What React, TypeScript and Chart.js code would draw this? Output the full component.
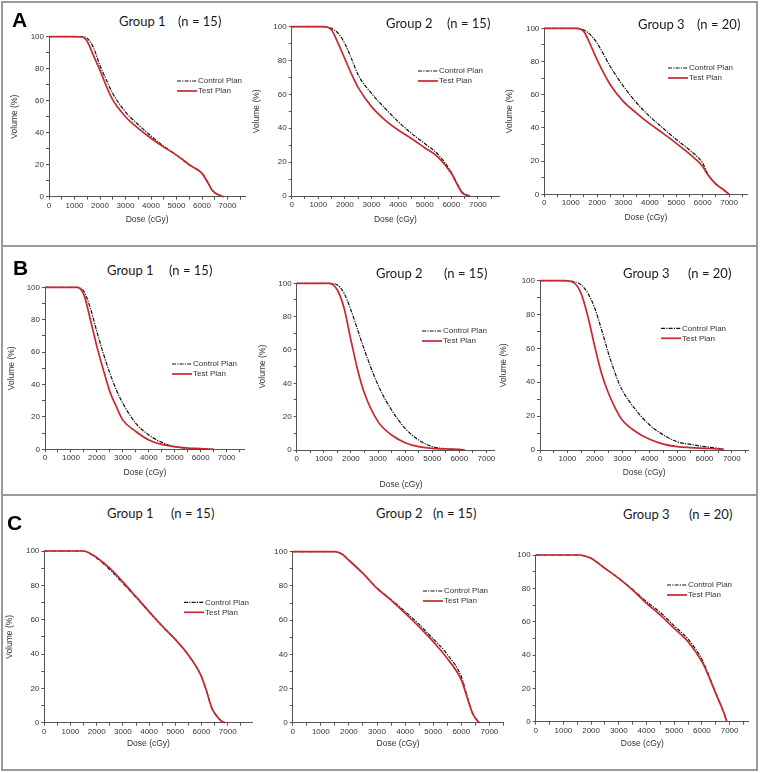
import React, { useEffect, useRef } from 'react';
import { Chart, registerables } from 'chart.js';

Chart.register(...registerables);

// ---------- DATA (dose in cGy, volume in %) ----------
const doseA1 = [0, 1000, 1300, 1500, 1750, 2000, 2250, 2500, 3000, 3500, 4000, 4500, 5000, 5500, 6000, 6200, 6400, 6600, 6850];
const ctrlA1 = [100, 100, 100, 99, 93, 82, 73, 64.5, 53, 45, 38, 31.5, 26, 20, 14.6, 10, 4, 1.5, 0];
const testA1 = [100, 100, 99.8, 97, 88, 79, 69, 60.5, 50, 42.7, 36.5, 31, 26, 20, 14.6, 9.5, 4, 1.5, 0];

const doseA2 = [0, 1200, 1500, 1750, 2000, 2250, 2500, 3000, 3500, 4000, 4500, 5000, 5500, 6000, 6200, 6400, 6600, 6700];
const ctrlA2 = [100, 100, 99, 96, 90, 81, 71.5, 60.6, 52, 44, 37, 31, 24.6, 14, 8, 2.5, 0.5, 0];
const testA2 = [100, 100, 98, 90, 81, 72, 64, 52.8, 45, 39, 34, 28.5, 23, 13.4, 7.5, 2, 0.4, 0];

const doseA3 = [0, 1200, 1500, 1750, 2000, 2500, 3000, 3500, 4000, 4500, 5000, 5500, 6000, 6200, 6500, 6800, 7000];
const ctrlA3 = [100, 100, 99, 96, 91, 77, 65, 55, 46.8, 39.8, 33, 26.7, 18.7, 12, 6.2, 2.6, 0];
const testA3 = [100, 100, 98, 90, 81, 66, 55.8, 48.8, 42.4, 36.7, 30.7, 24.3, 16.7, 11.6, 6.2, 2.6, 0];

const doseB1 = [0, 1250, 1500, 1750, 2000, 2250, 2500, 2750, 3000, 3500, 4000, 4500, 5000, 5500, 6000, 6500];
const ctrlB1 = [100, 100, 97.5, 87, 72.6, 59, 47, 36.6, 28.4, 16, 8.8, 4.3, 1.6, 0.6, 0.2, 0];
const testB1 = [100, 100, 95.3, 80, 63.4, 49, 35.6, 26.3, 18, 11, 5.8, 3, 1.6, 0.8, 0.4, 0];

const doseB2 = [0, 1200, 1500, 1750, 2000, 2250, 2500, 3000, 3500, 4000, 4500, 5000, 5500, 6000, 6200];
const ctrlB2 = [100, 100, 99, 94, 84, 72, 60, 39, 24, 13, 6, 2, 0.8, 0.2, 0];
const testB2 = [100, 100, 96, 85, 66, 48, 34, 17, 9, 4.4, 2, 1, 0.6, 0.4, 0];

const doseB3 = [0, 900, 1250, 1500, 1750, 2000, 2250, 2500, 2750, 3000, 3500, 4000, 4500, 5000, 5500, 6000, 6500, 6700];
const ctrlB3 = [100, 100, 99.4, 97.6, 92.5, 83.7, 70.9, 57, 45, 35.4, 23.6, 14.8, 8.9, 4.9, 3.3, 2, 1, 0.4];
const testB3 = [100, 100, 98.6, 92.5, 78.7, 61, 45, 33.5, 24.6, 17.7, 10.8, 6.3, 3.5, 2, 1.4, 1, 0.6, 0.4];

const doseC1 = [0, 1500, 1750, 2000, 2500, 3000, 3500, 4000, 4500, 5000, 5500, 6000, 6200, 6400, 6600, 6800, 6900];
const ctrlC1 = [100, 100, 98.4, 95.8, 89.2, 81.2, 73, 64.5, 56.2, 48.4, 39.3, 26.8, 18, 8.3, 3.5, 0.6, 0];
const testC1 = [100, 100, 98.6, 96.3, 90, 82, 73.4, 64.7, 56.3, 48.5, 39.4, 26.8, 18, 8.3, 3.5, 0.6, 0];

const doseC2 = [0, 1500, 1750, 2000, 2500, 3000, 3500, 4000, 4500, 5000, 5500, 6000, 6200, 6400, 6600, 6650];
const ctrlC2 = [100, 100, 98.6, 95, 87.3, 78.8, 72, 65, 57.5, 49, 40, 27, 16, 5.8, 0.6, 0];
const testC2 = [100, 100, 98.6, 95, 87.3, 78.6, 71.7, 64, 56, 47.4, 37.6, 25, 15.2, 5.5, 0.6, 0];

const doseC3 = [0, 1600, 1750, 2000, 2500, 3000, 3500, 4000, 4500, 5000, 5500, 6000, 6200, 6500, 6800, 6900];
const ctrlC3 = [100, 100, 99.5, 98, 92, 86, 79.3, 72, 65.5, 57.5, 49.5, 37.5, 30, 17.2, 5, 0];
const testC3 = [100, 100, 99.5, 98, 92, 86, 79, 71, 64, 56, 48, 36, 29, 17, 5, 0];

const seriesLabels = ['Control Plan', 'Test Plan'];
const groupTitles = ['Group 1', 'Group 2', 'Group 3'];
const groupSizes = ['(n = 15)', '(n = 15)', '(n = 20)'];
const rowLetters = ['A', 'B', 'C'];
const doseTicks = [0, 500, 1000, 1500, 2000, 2500, 3000, 3500, 4000, 4500, 5000, 5500, 6000, 6500, 7000, 7500];
const volumeTicks = [0, 10, 20, 30, 40, 50, 60, 70, 80, 90, 100];

// ---------- STYLE / LAYOUT ----------
const TEST_COLOR = '#c8282e';
const CTRL_COLOR = '#111111';
const AXIS_COLOR = '#555555';
const TEXT_COLOR = '#333333';
const SMALL_FONT = { family: "'Liberation Sans', Arial, sans-serif", size: 8 };

type Panel = {
  dose: number[]; ctrl: number[]; test: number[];
  xL: number; yT: number; yB: number; px: number; xMax: number;
  yLab: number | null; doseY: number; lg: [number, number]; clipR?: number;
  g: number; gx: number; nx: number; ty: number;
};

const panels: Panel[] = [
  { dose: doseA1, ctrl: ctrlA1, test: testA1, xL: 49, yT: 36.7, yB: 196.7, px: 25.5, xMax: 7700, yLab: 15, doseY: 220, lg: [128, 44.3], g: 0, gx: 119, nx: 178, ty: 20.7 },
  { dose: doseA2, ctrl: ctrlA2, test: testA2, xL: 291.7, yT: 26.7, yB: 196, px: 26.6, xMax: 7800, yLab: 257, doseY: 220, lg: [126.3, 44.3], g: 1, gx: 386, nx: 447, ty: 23 },
  { dose: doseA3, ctrl: ctrlA3, test: testA3, xL: 544.3, yT: 28.3, yB: 194.3, px: 26.4, xMax: 7700, yLab: 510, doseY: 218, lg: [123.7, 39.7], g: 2, gx: 638, nx: 697, ty: 24 },
  { dose: doseB1, ctrl: ctrlB1, test: testB1, xL: 45, yT: 287.3, yB: 449.3, px: 25.95, xMax: 7700, yLab: 12, doseY: 472.7, lg: [127, 76.7], g: 0, gx: 107, nx: 169, ty: 270 },
  { dose: doseB2, ctrl: ctrlB2, test: testB2, xL: 296.7, yT: 283.3, yB: 450, px: 27.1, xMax: 7700, yLab: 263, doseY: 485, lg: [125.3, 47.7], clipR: 495, g: 1, gx: 376, nx: 444, ty: 273 },
  { dose: doseB3, ctrl: ctrlB3, test: testB3, xL: 540, yT: 280.7, yB: 450, px: 27.4, xMax: 7600, yLab: 504, doseY: 473, lg: [121, 47.6], g: 2, gx: 623, nx: 688, ty: 272.7 },
  { dose: doseC1, ctrl: ctrlC1, test: testC1, xL: 44.3, yT: 551, yB: 722.7, px: 26.2, xMax: 7950, yLab: 10, doseY: 744, lg: [139.7, 51.3], g: 0, gx: 107, nx: 171, ty: 513 },
  { dose: doseC2, ctrl: ctrlC2, test: testC2, xL: 292.7, yT: 551.7, yB: 722.7, px: 28.1, xMax: 7500, yLab: null, doseY: 744, lg: [130.3, 39.3], g: 1, gx: 376, nx: 433, ty: 513 },
  { dose: doseC3, ctrl: ctrlC3, test: testC3, xL: 535.7, yT: 555, yB: 721.7, px: 27.7, xMax: 7700, yLab: null, doseY: 744, lg: [131.3, 30], g: 2, gx: 623, nx: 689, ty: 514 },
];

const letterPos = [
  { x: 12, y: 9 },
  { x: 13, y: 257 },
  { x: 7, y: 512 },
];

const dvhLegend = {
  id: 'dvhLegend',
  afterDatasetsDraw(chart: any, _args: any, opts: any) {
    const { ctx, chartArea } = chart;
    const x0 = chartArea.left + opts.dx;
    const y0 = chartArea.top + opts.dy;
    const items = [
      { ds: chart.data.datasets[1], y: y0 },
      { ds: chart.data.datasets[0], y: y0 + 10 },
    ];
    ctx.save();
    for (const it of items) {
      ctx.beginPath();
      ctx.strokeStyle = it.ds.borderColor;
      ctx.lineWidth = it.ds.borderWidth;
      ctx.setLineDash(it.ds.borderDash || []);
      ctx.moveTo(x0, it.y);
      ctx.lineTo(x0 + 20, it.y);
      ctx.stroke();
      ctx.setLineDash([]);
      ctx.fillStyle = TEXT_COLOR;
      ctx.font = `8px ${SMALL_FONT.family}`;
      ctx.textBaseline = 'middle';
      ctx.textAlign = 'left';
      ctx.fillText(it.ds.label, x0 + 21, it.y);
    }
    ctx.restore();
  },
};

function DvhPanel({ p }: { p: Panel }) {
  const ref = useRef<HTMLCanvasElement>(null);
  const LH = 8.5 * 1.2;
  const left = Math.round(p.yLab != null ? p.yLab - LH / 2 : p.xL - 40);
  const W = p.xL - left;
  const top = Math.round(p.yT - 8);
  const T = p.yT - top;
  const plotW = (p.xMax / 1000) * p.px;
  const plotH = p.yB - p.yT;
  const ch = Math.round(T + plotH + (p.doseY + LH / 2 - p.yB));
  const H = ch - T - plotH;
  const cw = Math.ceil(W + plotW + 6);
  const R = cw - W - plotW;

  useEffect(() => {
    if (!ref.current) return;
    const mk = (ys: number[]) => p.dose.map((x, i) => ({ x, y: ys[i] }));
    const chart = new Chart(ref.current, {
      type: 'line',
      data: {
        datasets: [
          { label: seriesLabels[1], data: mk(p.test), borderColor: TEST_COLOR, borderWidth: 1.7, pointRadius: 0, cubicInterpolationMode: 'monotone', order: 0, clip: false } as any,
          { label: seriesLabels[0], data: mk(p.ctrl), borderColor: CTRL_COLOR, borderWidth: 1.2, borderDash: [4, 1.2, 1.2, 1.2], pointRadius: 0, cubicInterpolationMode: 'monotone', order: 1, clip: false } as any,
        ],
      },
      options: {
        responsive: false,
        animation: false,
        devicePixelRatio: 1,
        layout: { padding: { top: T, right: R, left: 0, bottom: 0 } },
        plugins: {
          legend: { display: false },
          tooltip: { enabled: false },
          dvhLegend: { dx: p.lg[0], dy: p.lg[1] },
        } as any,
        scales: {
          x: {
            type: 'linear', min: 0, max: p.xMax,
            afterBuildTicks: (s: any) => { s.ticks = doseTicks.filter((v) => v <= p.xMax).map((value) => ({ value })); },
            afterFit: (s: any) => { s.height = H; },
            ticks: { autoSkip: false, maxRotation: 0, minRotation: 0, padding: 1, color: TEXT_COLOR, font: SMALL_FONT, callback: (v: any) => (v % 1000 === 0 ? String(v) : '') },
            grid: { drawOnChartArea: false, tickLength: 3, color: AXIS_COLOR },
            border: { color: AXIS_COLOR, width: 1 },
            title: { display: true, text: 'Dose (cGy)', padding: 0, color: TEXT_COLOR, font: { ...SMALL_FONT, size: 8.5 } },
          },
          y: {
            type: 'linear', min: 0, max: 100,
            afterBuildTicks: (s: any) => { s.ticks = volumeTicks.map((value) => ({ value })); },
            afterFit: (s: any) => { s.width = W; },
            ticks: { autoSkip: false, padding: 2, color: TEXT_COLOR, font: SMALL_FONT, callback: (v: any) => (v % 20 === 0 ? String(v) : '') },
            grid: { drawOnChartArea: false, tickLength: 3, color: AXIS_COLOR },
            border: { color: AXIS_COLOR, width: 1 },
            title: { display: p.yLab != null, text: 'Volume (%)', padding: 0, color: TEXT_COLOR, font: { ...SMALL_FONT, size: 8.5 } },
          },
        },
      } as any,
      plugins: [dvhLegend],
    });
    return () => chart.destroy();
  }, []);

  const wrapW = p.clipR ? p.clipR - left : cw;
  return (
    <div style={{ position: 'absolute', left, top, width: wrapW, height: ch, overflow: 'hidden' }}>
      <canvas ref={ref} width={cw} height={ch} style={{ width: cw, height: ch, display: 'block' }} />
    </div>
  );
}

const titleStyle: React.CSSProperties = {
  position: 'absolute',
  fontFamily: "Lato, 'Open Sans', sans-serif",
  fontSize: 13,
  lineHeight: '14px',
  color: '#1a1a1a',
  whiteSpace: 'nowrap',
};

export default function App() {
  return (
    <div style={{ position: 'absolute', left: 0, top: 0, width: 760, height: 773, background: '#fff', overflow: 'hidden' }}>
      {panels.map((p, i) => <DvhPanel key={i} p={p} />)}
      {panels.map((p, i) => (
        <React.Fragment key={'t' + i}>
          <div style={{ ...titleStyle, left: p.gx, top: p.ty - 7 }}>{groupTitles[p.g]}</div>
          <div style={{ ...titleStyle, left: p.nx, top: p.ty - 7 }}>{groupSizes[p.g]}</div>
        </React.Fragment>
      ))}
      {rowLetters.map((l, i) => (
        <div key={l} style={{ position: 'absolute', left: letterPos[i].x, top: letterPos[i].y, fontFamily: "'Liberation Sans', Arial, sans-serif", fontWeight: 700, fontSize: 21, lineHeight: '21px', color: '#000' }}>{l}</div>
      ))}
      <div style={{ position: 'absolute', left: 1, top: 1, width: 757, height: 770, border: '2px solid #9a9a9a', boxSizing: 'border-box' }} />
      <div style={{ position: 'absolute', left: 1, top: 245, width: 757, height: 2, background: '#9a9a9a' }} />
      <div style={{ position: 'absolute', left: 1, top: 494, width: 757, height: 2, background: '#9a9a9a' }} />
    </div>
  );
}
